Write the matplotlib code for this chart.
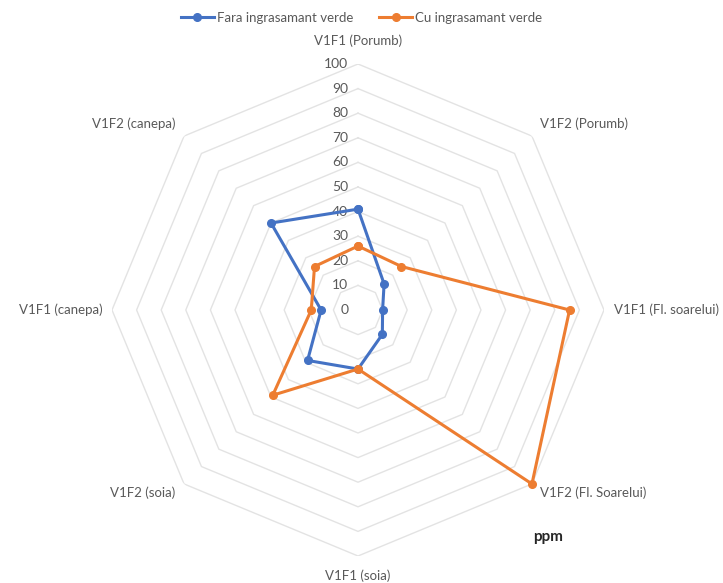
import numpy as np
import matplotlib
matplotlib.use("Agg")
import matplotlib.pyplot as plt

plt.rcParams['font.family'] = ['Lato', 'DejaVu Sans']

categories = ["V1F1 (Porumb)", "V1F2 (Porumb)", "V1F1 (Fl. soarelui)", "V1F2 (Fl. Soarelui)",
              "V1F1 (soia)", "V1F2 (soia)", "V1F1 (canepa)", "V1F2 (canepa)"]
fara = [41, 15, 10, 14, 24, 29, 15, 50]
cu = [26, 25, 86, 100, 24, 49, 19, 25]
series_names = ["Fara ingrasamant verde", "Cu ingrasamant verde"]
r_ticks = list(range(0, 101, 10))

blue = "#4472C4"
orange = "#ED7D31"
grid_col = "#E3E3E3"
text_col = "#595959"

fig = plt.figure(figsize=(7.23, 5.83), dpi=100)
ax = fig.add_axes([112 / 723, 27 / 583, 492 / 723, 492 / 583], projection="polar")
ax.set_theta_offset(np.pi / 2)
ax.set_theta_direction(-1)
ax.set_ylim(0, 100)

n = len(categories)
angles = np.arange(n) * 2 * np.pi / n
closed = np.append(angles, angles[0])

# octagonal grid rings
ax.grid(False)
ax.spines['polar'].set_visible(False)
ax.set_xticks([])
ax.set_yticks([])
for r in r_ticks[1:]:
    ax.plot(closed, [r] * (n + 1), color=grid_col, lw=1, zorder=1)

# radial tick labels along the top axis
for r in r_ticks:
    ax.annotate(str(r), xy=(0, r), xytext=(-7, 0), textcoords="offset points",
                ha="right", va="center", fontsize=10, color=text_col)

# category labels
offsets = [(0, 12, "center", "bottom"), (6, 4, "left", "bottom"), (7, 0, "left", "center"),
           (6, -2, "left", "top"), (0, -10, "center", "top"), (-6, -2, "right", "top"),
           (-7, 0, "right", "center"), (-6, 4, "right", "bottom")]
for a, lab, (dx, dy, ha, va) in zip(angles, categories, offsets):
    ax.annotate(lab, xy=(a, 100), xytext=(dx, dy), textcoords="offset points",
                ha=ha, va=va, fontsize=9.5, color=text_col, annotation_clip=False)

for vals, col, name in [(fara, blue, series_names[0]), (cu, orange, series_names[1])]:
    ax.plot(closed, vals + vals[:1], color=col, lw=2.2, marker="o", markersize=5.5,
            label=name, zorder=3, clip_on=False)

fig.legend(loc="upper center", bbox_to_anchor=(0.5, 1.0), ncol=2, frameon=False,
           fontsize=9.5, labelcolor=text_col, handlelength=2.5, columnspacing=2.0,
           handletextpad=0.2)

fig.text(548 / 723, 1 - 537 / 583, "ppm", ha="center", va="center",
         fontsize=11, fontweight="bold", color="#262626")

fig.savefig("out.png", dpi=100)
